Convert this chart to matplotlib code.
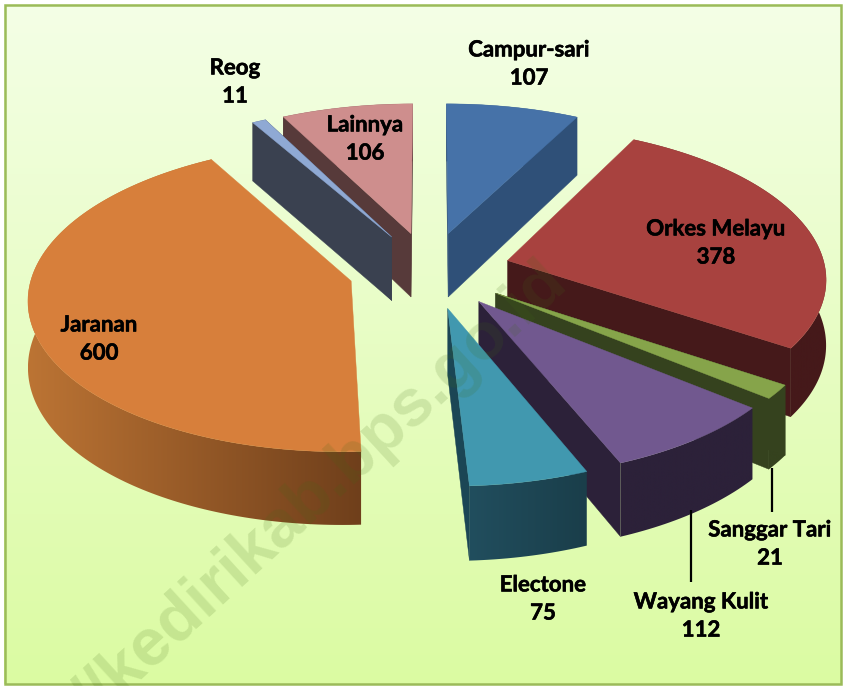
import numpy as np
import matplotlib
matplotlib.use('Agg')
import matplotlib.pyplot as plt
import matplotlib.patheffects as pe
from matplotlib.colors import to_rgb
from matplotlib.patches import Polygon, Rectangle
from matplotlib.path import Path

# Dados do grafico
kategori = ['Campur-sari', 'Orkes Melayu', 'Sanggar Tari', 'Wayang Kulit',
            'Electone', 'Jaranan', 'Reog', 'Lainnya']
nilai = [107, 378, 21, 112, 75, 600, 11, 106]

# Cores: topo, parede radial, borda esquerda, borda direita
warna_atas = ['#4672A8', '#A8423F', '#86A44A', '#71588F', '#4198AF', '#D77F3B', '#8FA9D4', '#CE8E8D']
warna_sisi = ['#2F5078', '#45191A', '#35421E', '#2C2139', '#1B4655', '#6F3F1B', '#3A4150', '#573A3A']
warna_kiri = ['#2F5078', '#45191A', '#35421E', '#2C2139', '#214E5E', '#BC7434', '#3A4150', '#573A3A']
warna_kanan = ['#2F5078', '#45191A', '#35421E', '#2C2139', '#1A3E4A', '#6F3F1B', '#3A4150', '#573A3A']

posisi_label = [(529, 64), (716, 243), (770, 544), (701, 616), (543, 599), (99, 339), (235, 82), (365, 139)]
garis_label = [((772, 468), (772, 512)), ((691, 510), (691, 582))]

# Parametros da projecao
cx, cy = 429.5, 270
raio = 318
esc_y = 150.5
persp = 0.1045
tinggi = 65
explode = 0.255


def proj(x, y, z=0.0):
    w = 1 + persp * y
    return cx + raio * x / w, cy - esc_y * y / w + tinggi * z / w


def campur(a, b, t):
    a, b = np.array(to_rgb(a)), np.array(to_rgb(b))
    return tuple(a + (b - a) * t)


def gambar_irisan(ax, a0, a1, atas, sisi, kiri, kanan):
    tengah = (a0 + a1) / 2
    ox = explode * np.sin(tengah)
    oy = explode * np.cos(tengah)
    ang = np.linspace(a0, a1, max(int(np.degrees(a1 - a0)), 3) + 1)
    xs = ox + np.sin(ang)
    ys = oy + np.cos(ang)

    topo = [proj(ox, oy)] + [proj(x, y) for x, y in zip(xs, ys)]
    atas_path = Path(np.array(topo + [topo[0]]))

    # parede externa: uma faixa so, com degrade horizontal
    cima = [proj(x, y) for x, y in zip(xs, ys)]
    baixo = [proj(x, y, 1) for x, y in zip(xs, ys)]
    faixa = np.array(cima + baixo[::-1])
    x0, x1 = faixa[:, 0].min(), faixa[:, 0].max()
    y0, y1 = faixa[:, 1].min(), faixa[:, 1].max()
    tira = np.array([campur(kiri, kanan, t) for t in np.linspace(0, 1, 256)])[None, :, :]
    im = ax.imshow(tira, extent=(x0, x1, y1, y0), aspect='auto', zorder=2)
    im.set_clip_path(Polygon(faixa, closed=True, transform=ax.transData))

    # paredes radiais: so as que aparecem fora do topo
    for a in (a0, a1):
        px, py = ox + np.sin(a), oy + np.cos(a)
        meio_baixo = proj((ox + px) / 2, (oy + py) / 2, 1)
        if atas_path.contains_point(meio_baixo):
            continue
        pts = [proj(ox, oy), proj(px, py), proj(px, py, 1), proj(ox, oy, 1)]
        ax.add_patch(Polygon(pts, closed=True, facecolor=sisi, edgecolor=sisi, lw=0.3, zorder=2))

    ax.add_patch(Polygon(topo, closed=True, facecolor=atas, edgecolor=atas, lw=0.3, zorder=2))


def main():
    fig = plt.figure(figsize=(8.43, 6.86), dpi=100)
    ax = fig.add_axes([0, 0, 1, 1])
    ax.axis('off')

    # Fundo em degrade
    grad = np.array([campur('#F4FFE6', '#DBFBA2', t) for t in np.linspace(0, 1, 256)])[:, None, :]
    ax.imshow(grad, extent=(4, 841, 684, 4), aspect='auto', zorder=0)
    ax.add_patch(Rectangle((4.5, 4.5), 836, 679.5, fill=False, edgecolor='#9BBB59', lw=1.8, zorder=1))

    # Fatias, da mais distante para a mais proxima
    total = sum(nilai)
    fim = np.cumsum(nilai) / total * 2 * np.pi
    ini = np.concatenate([[0], fim[:-1]])
    meio = (ini + fim) / 2
    ordem = np.argsort(-np.cos(meio))
    for i in ordem:
        gambar_irisan(ax, ini[i], fim[i], warna_atas[i], warna_sisi[i], warna_kiri[i], warna_kanan[i])

    ax.set_xlim(0, 843)
    ax.set_ylim(686, 0)

    # Marca d'agua
    ax.text(95, 722, '//kedirikab.bps.go.id', rotation=42.5, rotation_mode='anchor',
            ha='left', va='baseline', fontsize=48, fontweight='bold', family='Liberation Sans',
            color='#3F6A14', alpha=0.15, zorder=3, clip_on=True)

    for a, b in garis_label:
        ax.plot([a[0], b[0]], [a[1], b[1]], color='black', lw=1.6, zorder=4, solid_capstyle='butt')

    for nama, v, (x, y) in zip(kategori, nilai, posisi_label):
        ax.text(x, y, f'{nama}\n{v}', ha='center', va='center', fontsize=16, fontweight='bold',
                family='Lato', color='black', linespacing=1.42, zorder=5,
                path_effects=[pe.withStroke(linewidth=0.4, foreground='black')])

    fig.savefig('out.png', dpi=100)


if __name__ == "__main__":
    main()
